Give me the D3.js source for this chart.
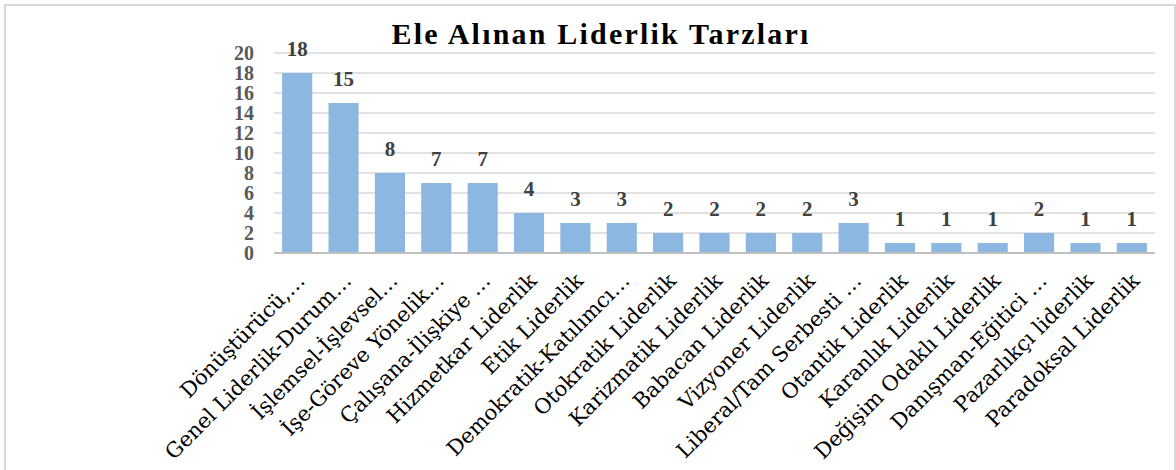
<!DOCTYPE html>
<html><head><meta charset="utf-8">
<script src="https://cdn.jsdelivr.net/npm/d3@7"></script>
<style>html,body{margin:0;padding:0;background:#fff;}svg{display:block;}</style>
</head><body>
<script>
const title = "Ele Alınan Liderlik Tarzları";
const categories = ["Dönüştürücü,…","Genel Liderlik-Durum…","İşlemsel-İşlevsel…","İşe-Göreve Yönelik…","Çalışana-İlişkiye …","Hizmetkar Liderlik","Etik Liderlik","Demokratik-Katılımcı…","Otokratik Liderlik","Karizmatik Liderlik","Babacan Liderlik","Vizyoner Liderlik","Liberal/Tam Serbesti …","Otantik Liderlik","Karanlık Liderlik","Değişim Odaklı Liderlik","Danışman-Eğitici …","Pazarlıkçı liderlik","Paradoksal Liderlik"];
const values = [18,15,8,7,7,4,3,3,2,2,2,2,3,1,1,1,2,1,1];
const yTicks = [0,2,4,6,8,10,12,14,16,18,20];

const W = 1176, H = 470;
const svg = d3.select("body").append("svg").attr("width", W).attr("height", H);
svg.append("rect").attr("x",5).attr("y",5).attr("width",1170).attr("height",470).attr("fill","#fff").attr("stroke","#d9d9d9").attr("stroke-width",2);

const x = d3.scaleBand().domain(categories).range([274,1155]).paddingInner(0.35).paddingOuter(0.175);
const y = d3.scaleLinear().domain([0,20]).range([253,53]);

svg.append("g").selectAll("line").data(yTicks.filter(d=>d>0)).join("line")
  .attr("x1",274).attr("x2",1155).attr("y1",d=>y(d)).attr("y2",d=>y(d))
  .attr("stroke","#d9d9d9").attr("stroke-width",1.5);

svg.append("g").selectAll("rect").data(values).join("rect")
  .attr("x",(d,i)=>x(categories[i])).attr("width",x.bandwidth())
  .attr("y",d=>y(d)).attr("height",d=>y(0)-y(d))
  .attr("fill","#8cb7e1");

svg.append("line").attr("x1",274).attr("x2",1155).attr("y1",y(0)).attr("y2",y(0)).attr("stroke","#bfbfbf").attr("stroke-width",2);

const ya = d3.axisLeft(y).tickValues(yTicks).tickSize(0).tickPadding(0);
const yg = svg.append("g").attr("transform","translate(254,0)").call(ya);
yg.select(".domain").remove();
yg.selectAll("text").attr("font-family","'Liberation Serif','Times New Roman',serif").attr("font-size",20).attr("font-weight","bold").attr("fill","#595959").attr("dy","0.33em");

svg.append("g").selectAll("text").data(values).join("text")
  .attr("x",(d,i)=>x(categories[i])+x.bandwidth()/2).attr("y",d=>y(d)-17)
  .attr("text-anchor","middle").attr("font-family","'Liberation Serif','Times New Roman',serif")
  .attr("font-size",21).attr("font-weight","bold").attr("fill","#404040").text(d=>d);

const xa = d3.axisBottom(x).tickSize(0).tickPadding(0);
const xg = svg.append("g").attr("transform","translate(0,253)").call(xa);
xg.select(".domain").remove();
xg.selectAll("text").attr("font-family","'DejaVu Serif',serif").attr("font-size",21).attr("fill","#000")
  .attr("text-anchor","end").attr("transform","translate(9,29) rotate(-45)").attr("dy","0");

svg.append("text").attr("x",601).attr("y",44).attr("text-anchor","middle")
  .attr("font-family","'Liberation Serif','Times New Roman',serif").attr("font-size",30).attr("font-weight","bold")
  .attr("letter-spacing","2.2px").attr("fill","#000").text(title);
</script>
</body></html>
